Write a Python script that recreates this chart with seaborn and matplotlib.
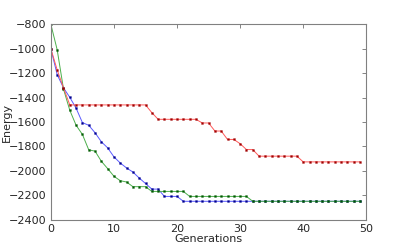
import matplotlib
matplotlib.use("Agg")
import matplotlib.pyplot as plt
import seaborn as sns
import pandas as pd
import numpy as np

generations = list(range(50))
blue = [-1000, -1212, -1320, -1398, -1487, -1605, -1627, -1688, -1762, -1812,
        -1886, -1936, -1977, -2010, -2059, -2104, -2150, -2150, -2210, -2210,
        -2210] + [-2250] * 29
green = [-800, -1008, -1330, -1504, -1627, -1702, -1828, -1839, -1922, -1982,
         -2045, -2081, -2092, -2130, -2130, -2130, -2169, -2169, -2169, -2169,
         -2169, -2169] + [-2210] * 10 + [-2250] * 18
red = [-1000, -1173, -1320] + [-1460] * 13 + [-1523] + [-1578] * 7 + [-1608] * 2 \
      + [-1674] * 2 + [-1743] * 2 + [-1778] + [-1826] * 2 + [-1880] * 7 + [-1927] * 10

xticks = [0, 10, 20, 30, 40, 50]
yticks = [-2400, -2200, -2000, -1800, -1600, -1400, -1200, -1000, -800]

sns.set_style("white")
plt.rcParams['font.family'] = ['DejaVu Sans']
plt.rcParams['axes.unicode_minus'] = True

fig = plt.figure(figsize=(4.07, 2.44), dpi=100)
ax = fig.add_axes([0.125, 0.1, 0.775, 0.8])

series = [
    (blue, '#5a5aff', '#00008b'),
    (green, '#4caf4c', '#005a00'),
    (red, '#ff5a5a', '#a00000'),
]
for vals, lc, mc in series:
    df = pd.DataFrame({"Generations": generations, "Energy": vals})
    sns.lineplot(data=df, x="Generations", y="Energy", ax=ax, color=lc,
                 linewidth=0.7, marker='s', markersize=1.4,
                 markerfacecolor=mc, markeredgecolor=mc, markeredgewidth=0.2)

ax.set_xlim(0, 50)
ax.set_ylim(-2400, -800)
ax.set_xticks(xticks)
ax.set_yticks(yticks)
ax.tick_params(axis='both', which='both', direction='in', top=True, right=True,
               labelsize=8, length=3, width=0.6, color='#707070', pad=3)
for s in ax.spines.values():
    s.set_color('#808080')
    s.set_linewidth(0.8)
ax.set_xlabel("Generations", fontsize=8, labelpad=0)
ax.set_ylabel("Energy", fontsize=8, labelpad=0)
ax.yaxis.set_label_coords(-0.125, 0.5)

fig.savefig("out.png", dpi=100)
